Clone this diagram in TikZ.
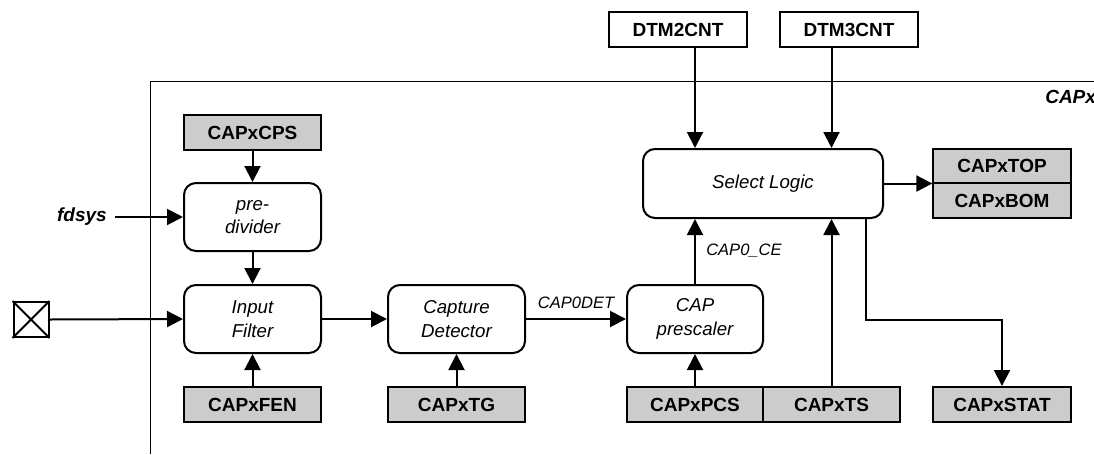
\documentclass[tikz,border=0pt]{standalone}
\usepackage{fontspec}
\setmainfont{Liberation Sans}
\usetikzlibrary{arrows.meta,calc}
\definecolor{reggray}{HTML}{CCCCCC}
\tikzset{
  px/.style={x=0.75pt,y=-0.75pt},
  regbox/.style={draw,line width=1.5pt,fill=reggray,minimum width=103pt,minimum height=26.25pt,inner sep=0pt,
    font=\fontsize{14.25}{16}\selectfont\bfseries},
  wbox/.style={regbox,fill=white},
  blk/.style={draw,line width=1.5pt,rounded corners=9pt,minimum width=102.75pt,minimum height=51pt,inner sep=0pt,
    align=center,font=\fontsize{14}{17.5}\selectfont\itshape},
  arr/.style={line width=1.5pt,-{Triangle[length=12pt,width=12pt]}},
  sig/.style={font=\fontsize{12.4}{14}\selectfont\itshape,inner sep=0pt},
}
\begin{document}
\begin{tikzpicture}[px]
\useasboundingbox (0,0) rectangle (1094,454);
% frame
\draw[line width=0.75pt] (150,454) -- (150,81) -- (1100,81);
\node[anchor=west,inner sep=0pt,font=\fontsize{14.25}{16}\selectfont\bfseries\itshape] (capx) at (1045,97) {CAPx};
% registers and blocks
\node[regbox] (cps) at (252.5,132.5) {CAPxCPS};
\node[blk] (pred) at (252.5,217) {pre-\\divider};
\node[blk] (inf) at (252.5,319) {Input\\Filter};
\node[regbox] (fen) at (252.5,404.5) {CAPxFEN};
\node[blk] (capdet) at (456.5,319) {Capture\\Detector};
\node[regbox] (tg) at (456.5,404.5) {CAPxTG};
\node[blk,minimum width=102pt] (presc) at (695,319) {CAP\\prescaler};
\node[regbox,minimum width=102pt] (pcs) at (695,404.5) {CAPxPCS};
\node[regbox] (ts) at (831.5,404.5) {CAPxTS};
\node[regbox] (stat) at (1002,404.5) {CAPxSTAT};
\node[blk,minimum width=180pt,minimum height=51.75pt] (sel) at (763,183.5) {Select Logic};
\node[wbox] (dtm2) at (678,29.5) {DTM2CNT};
\node[wbox] (dtm3) at (849,29.5) {DTM3CNT};
\node[regbox,minimum height=25.5pt] (top) at (1002,166) {CAPxTOP};
\node[regbox] (bom) at (1002,200.5) {CAPxBOM};
% pin
\node[draw,line width=1.5pt,minimum size=26.25pt,inner sep=0pt] (pin) at (31,319.5) {};
\draw[line width=1.5pt] (pin.north west) -- (pin.south east) (pin.south west) -- (pin.north east);
% fdsys
\node[anchor=east,inner sep=0pt,font=\fontsize{14.25}{16}\selectfont\bfseries\itshape] (fdsys) at (107,217) {fdsys};
\coordinate (fdsysout) at (115,217);
% connectors
\draw[arr] (cps) -- (pred);
\draw[arr] (pred) -- (inf);
\draw[arr] (fen) -- (inf);
\draw[arr] (fdsysout) -- (pred.west);
\draw[arr] (pin.east) -- (inf.west);
\draw[arr] (inf) -- (capdet);
\draw[arr] (capdet) -- node[sig,above=7pt] {CAP0DET} (presc);
\draw[arr] (tg) -- (capdet);
\draw[arr] (pcs) -- (presc);
\draw[arr] (presc.north) -- (presc.north |- sel.south);
\node[sig,anchor=west] (ce) at (706,251) {CAP0\_CE};
\draw[arr] (presc.north |- dtm2.south) -- (presc.north |- sel.north);
\draw[arr] (ts.north |- dtm3.south) -- (ts.north |- sel.north);
\draw[arr] (ts.north) -- (ts.north |- sel.south);
\draw[arr] (sel.east) -- (sel.east -| top.west);
\coordinate (tap) at (866,320);
\draw[arr] (sel.south -| tap) -- (tap) -| (stat.north);
\end{tikzpicture}
\end{document}
